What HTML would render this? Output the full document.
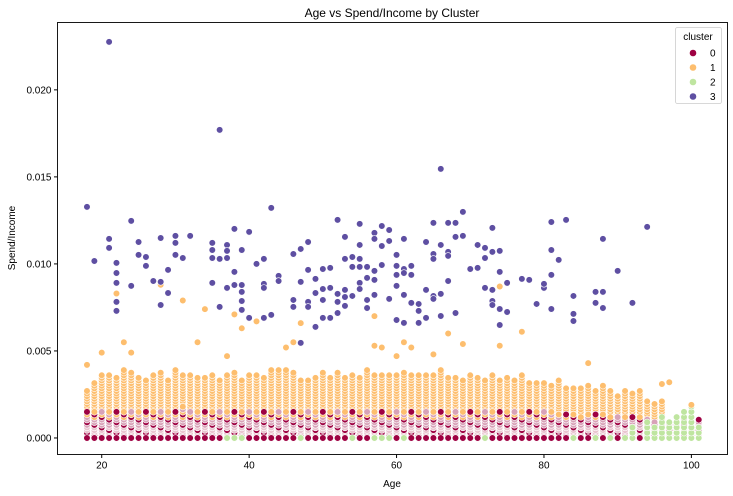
<!DOCTYPE html>
<html><head><meta charset="utf-8"><style>
html,body{margin:0;padding:0;background:#fff;}
svg{display:block;font-family:"Liberation Sans","DejaVu Sans",sans-serif;}
</style></head><body>
<svg id="chart" width="733" height="496" viewBox="0 0 733 496">
<rect x="0" y="0" width="733" height="496" fill="#fff"/>
<text x="392" y="17" font-size="12" text-anchor="middle" fill="#000">Age vs Spend/Income by Cluster</text>
<text x="392" y="487" font-size="10" text-anchor="middle" fill="#000">Age</text>
<text transform="translate(15,238) rotate(-90)" font-size="10" text-anchor="middle" fill="#000">Spend/Income</text>
<g id="ticks"></g>
<g id="marks"></g>
<rect x="57.5" y="22.5" width="670" height="432" fill="none" stroke="#000" stroke-width="0.9"/>
<g>
<rect x="675.5" y="27.5" width="46" height="76" rx="2" fill="#fff" stroke="#ccc" stroke-width="0.8"/>
<text x="698" y="40" font-size="10" text-anchor="middle">cluster</text>
<g><circle cx="693" cy="53" r="3.3" fill="#9e0142"/><text x="710" y="56.5" font-size="10">0</text></g>
<g><circle cx="693" cy="67.5" r="3.3" fill="#fdbe6e"/><text x="710" y="71" font-size="10">1</text></g>
<g><circle cx="693" cy="82" r="3.3" fill="#bfe5a0"/><text x="710" y="85.5" font-size="10">2</text></g>
<g><circle cx="693" cy="96.5" r="3.3" fill="#5e4fa2"/><text x="710" y="100" font-size="10">3</text></g>
</g>
</svg>
<script>
const xTicks = [20, 40, 60, 80, 100];
const yTicks = [0, 0.005, 0.010, 0.015, 0.020];
const yTickLabels = ["0.000", "0.005", "0.010", "0.015", "0.020"];
const bandAges = [18,19,20,21,22,23,24,25,26,27,28,29,30,31,32,33,34,35,36,37,38,39,40,41,42,43,44,45,46,47,48,49,50,51,52,53,54,55,56,57,58,59,60,61,62,63,64,65,66,67,68,69,70,71,72,73,74,75,76,77,78,79,80,81,82,83,84,85,86,87,88,89,90,91,92,93,94,95,96,97,98,99,100,101];
// cluster 1 band top per age (thousandths)
const c1Top = [2.8,3.2,3.7,3.6,3.5,3.9,3.8,3.5,3.3,3.6,3.8,3.4,3.9,3.6,3.7,3.5,3.5,3.6,3.3,3.7,3.8,3.4,3.6,3.7,3.5,3.9,3.9,4.0,3.8,3.4,3.3,3.5,3.8,3.5,3.8,3.5,3.7,3.5,3.9,3.6,3.7,3.7,3.7,3.8,3.6,3.6,3.7,3.6,3.9,3.5,3.5,3.4,3.6,3.5,3.3,3.7,3.4,3.5,3.4,3.6,3.2,3.2,3.2,3.0,3.3,2.9,2.9,2.9,3.1,2.7,3.1,2.8,2.5,2.8,2.6,2.7,2.2,2.0,2.2,0,0,0,0,0];
// cluster 0 band top per age
const c0Top = [1.5,1.5,1.5,1.6,1.5,1.5,1.6,1.5,1.5,1.5,1.6,1.5,1.5,1.8,1.6,1.5,1.5,1.6,1.5,1.5,1.5,1.6,1.5,1.5,1.5,1.5,1.5,1.5,1.5,1.5,1.5,1.5,1.6,1.5,1.5,1.5,1.5,1.5,1.5,1.5,1.5,1.6,1.5,1.5,1.5,1.6,1.5,1.5,1.5,1.5,1.5,1.5,1.5,1.5,1.6,1.5,1.5,1.5,1.5,1.5,1.5,1.5,1.6,1.5,1.4,1.4,1.4,1.3,1.4,1.4,1.4,1.3,1.3,1.3,1.2,1.2,1.1,1.0,1.0,0.8,0.9,1.1,0.6,1.1];
// cluster 2 band top per age (-1 = none)
const c2Top = [-1,-1,-1,-1,-1,-1,-1,-1,-1,-1,-1,-1,-1,-1,-1,-1,-1,-1,-1,0,0,0,-1,-1,-1,-1,-1,-1,-1,0,-1,-1,-1,-1,-1,-1,0,-1,-1,0,0,0,-1,0,-1,-1,-1,-1,-1,-1,-1,-1,-1,-1,0,-1,-1,-1,-1,-1,-1,-1,-1,-1,-1,-1,0,-1,-1,0,-1,0,-1,0,0.6,-1,0.9,0.6,1.2,0.9,1.2,1.5,1.8,0.6];
const purpleAge = [18,19,21,21,22,22,22,22,22,24,24,25,25,26,26,27,28,28,28,29,29,30,30,30,31,32,35,35,35,35,36,36,37,37,37,37,38,38,38,39,39,39,39,39,40,40,41,42,42,42,42,43,43,44,44,46,46,46,47,47,47,48,48,48,48,49,49,49,50,50,50,50,51,51,51,52,52,52,52,53,53,53,53,53,54,54,54,55,55,55,55,55,55,56,56,56,56,57,57,57,57,57,58,58,58,59,59,59,60,60,60,60,60,61,61,61,61,61,62,62,62,63,63,63,64,64,64,65,65,65,65,65,66,66,66,66,67,67,67,67,68,68,68,69,69,70,71,71,72,72,72,73,73,73,73,73,74,74,74,74,75,75,77,78,79,80,80,81,81,81,81,82,83,84,84,84,87,87,88,88,88,90,92,94,21,36];
const purpleVal = [13.28,10.17,11.44,10.92,10.06,9.48,8.91,7.82,7.30,12.47,8.74,11.26,10.52,10.40,9.89,9.02,11.49,8.97,7.64,9.66,8.33,11.61,11.21,10.52,10.34,11.61,11.21,10.80,10.34,8.91,10.29,7.53,11.09,10.75,10.34,8.62,12.01,9.54,8.79,10.80,8.79,8.39,7.87,7.36,11.84,6.90,10.00,10.29,8.85,8.62,6.90,13.22,7.07,9.31,9.02,10.57,7.93,7.53,10.86,8.97,5.46,11.26,9.66,7.82,7.53,9.14,8.33,6.38,9.71,8.56,7.93,6.90,9.77,8.62,6.90,12.53,8.28,7.82,7.18,11.55,10.29,8.51,8.10,7.59,10.40,9.83,8.16,12.30,11.09,10.29,9.83,8.91,8.56,9.83,9.20,7.93,7.47,11.78,11.44,9.60,9.08,8.22,12.18,11.03,9.94,11.95,11.32,7.99,10.52,9.89,9.37,8.74,6.78,11.44,9.71,9.48,8.22,6.61,9.89,9.37,7.76,7.70,7.30,6.61,11.26,8.51,6.90,12.36,10.57,10.29,8.16,7.99,15.46,11.09,8.28,7.01,12.36,10.69,10.46,9.02,12.36,11.55,7.18,12.99,11.61,9.71,11.09,9.77,10.92,10.34,8.62,12.07,10.69,8.51,7.87,7.64,10.75,9.54,7.41,6.49,8.91,7.24,9.14,9.08,7.70,8.62,8.85,12.41,10.80,9.37,7.41,10.23,12.53,8.16,7.13,6.72,8.39,7.76,11.44,8.39,7.47,9.60,7.76,12.13,22.76,17.70];
const orangeAge = [18,23,20,24,33,34,38,39,41,37,45,46,47,57,57,58,31,22,28,67,77,61,62,69,74,65,86,97,60,74,96,100];
const orangeVal = [4.2,5.5,4.9,4.9,5.5,7.4,7.1,6.3,6.7,4.7,5.2,5.5,6.6,7.0,5.3,5.2,7.9,8.3,8.8,6.0,6.1,5.5,5.2,5.4,5.3,4.8,4.3,3.2,4.7,8.7,3.1,1.9];

const X0 = 57.5, X1 = 727.5, Y0 = 454.5, Y1 = 22.5;
const xMin = 14, xMax = 104.9, yMin = -0.00095, yMax = 0.02387;
const xs = a => X0 + (a - xMin) / (xMax - xMin) * (X1 - X0);
const ys = v => Y0 - (v - yMin) / (yMax - yMin) * (Y0 - Y1);
const NS = "http://www.w3.org/2000/svg";
const C = {0:"#9e0142",1:"#fdbe6e",2:"#bfe5a0",3:"#5e4fa2",p:"#d8a2b8",q:"#e9c4cf"};
const marks = document.getElementById("marks");
const ticks = document.getElementById("ticks");

function dot(a, vThousandths, color, name) {
  const c = document.createElementNS(NS, "circle");
  c.setAttribute("cx", xs(a).toFixed(2));
  c.setAttribute("cy", ys(vThousandths / 1000).toFixed(2));
  c.setAttribute("r", "3.3");
  c.setAttribute("fill", color);
  c.setAttribute("stroke", "#fff");
  c.setAttribute("stroke-width", "0.6");
  
  
  marks.appendChild(c);
}

xTicks.forEach(t => {
  const x = xs(t);
  const l = document.createElementNS(NS, "line");
  l.setAttribute("x1", x); l.setAttribute("x2", x);
  l.setAttribute("y1", Y0); l.setAttribute("y2", Y0 + 3.5);
  l.setAttribute("stroke", "#000");
  
  
  ticks.appendChild(l);
  const tx = document.createElementNS(NS, "text");
  tx.setAttribute("x", x); tx.setAttribute("y", Y0 + 14);
  tx.setAttribute("font-size", "10"); tx.setAttribute("text-anchor", "middle");
  tx.textContent = t;
  
  
  ticks.appendChild(tx);
});
yTicks.forEach((t, i) => {
  const y = ys(t);
  const l = document.createElementNS(NS, "line");
  l.setAttribute("x1", X0 - 3.5); l.setAttribute("x2", X0);
  l.setAttribute("y1", y); l.setAttribute("y2", y);
  l.setAttribute("stroke", "#000");
  
  
  ticks.appendChild(l);
  const tx = document.createElementNS(NS, "text");
  tx.setAttribute("x", X0 - 6); tx.setAttribute("y", y + 3.5);
  tx.setAttribute("font-size", "10"); tx.setAttribute("text-anchor", "end");
  tx.textContent = yTickLabels[i];
  
  
  ticks.appendChild(tx);
});

const STEP = 0.15;
bandAges.forEach((a, i) => {
  for (let v = 0.15; v <= c1Top[i] + 1e-9; v += STEP) dot(a, v, C[1], "point-cluster-1");
  let k = 0;
  for (let v = 0.15; v <= c0Top[i] + 1e-9; v += STEP, k++) {
    let col;
    if ((k + i) % 4 === 1) col = C[0];
    else if (v < 0.7) col = C.q;
    else if (v < 1.1) col = C.p;
    else col = ((k + i) % 2 === 0) ? C[1] : C.p;
    dot(a, v, col, "point-cluster-0");
  }
  if (a <= 99) dot(a, 0, C[0], "point-cluster-0");
  if (c2Top[i] >= 0) {
    for (let v = 0; v <= c2Top[i] + 1e-9; v += 0.3) dot(a, v, C[2], "point-cluster-2");
  }
});
orangeAge.forEach((a, i) => dot(a, orangeVal[i], C[1], "point-cluster-1"));
purpleAge.forEach((a, i) => dot(a, purpleVal[i], C[3], "point-cluster-3"));
</script>
</body></html>
